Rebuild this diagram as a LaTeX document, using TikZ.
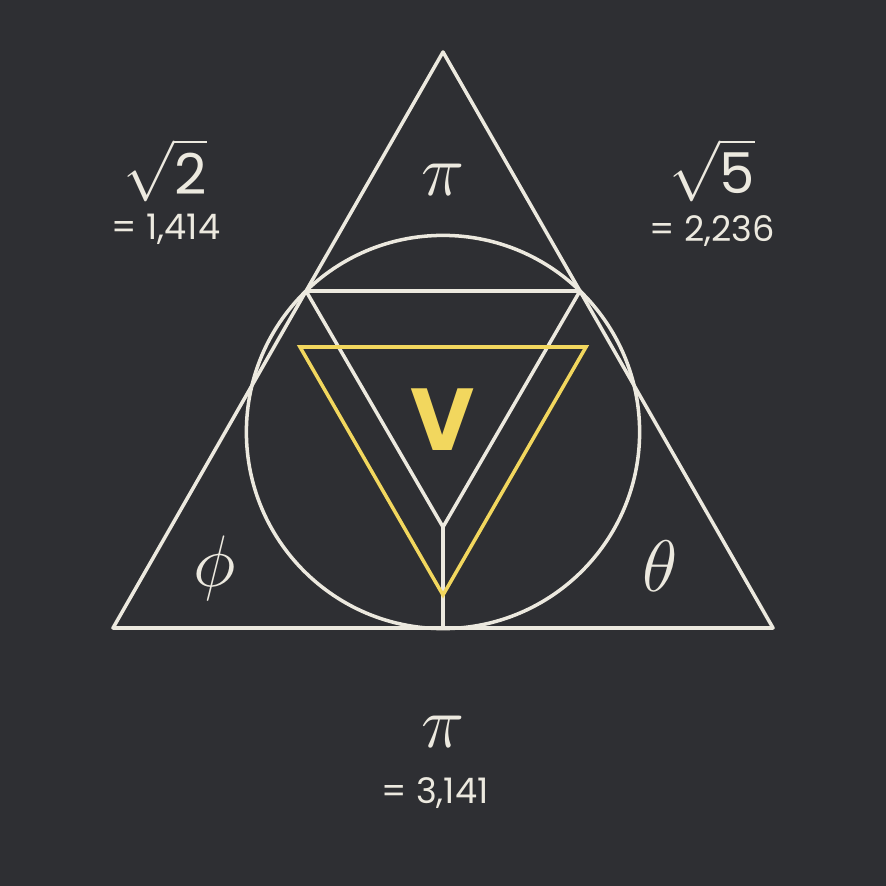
\documentclass[tikz,border=0pt]{standalone}
\usepackage{fontspec}
\setmainfont{Poppins}
\usepackage{xcolor}
\usepackage{tikz}
\usetikzlibrary{calc}

\definecolor{board}{HTML}{2E2F33}
\definecolor{chalk}{HTML}{ECE9DF}
\definecolor{gold}{HTML}{F2D75E}

\begin{document}
\begin{tikzpicture}[x=0.01cm, y=-0.01cm,
    chalkline/.style={draw=chalk, line width=1pt, line join=round},
    goldline/.style={draw=gold, line width=1pt, line join=miter},
    rootlabel/.style={text=chalk, font=\fontsize{16}{18}\selectfont},
    valuelabel/.style={text=chalk, font=\fontsize{10}{12}\selectfont},
    greeklabel/.style={text=chalk, font=\fontsize{20}{22}\selectfont}]
    % Background board
    \fill[board] (0,0) rectangle (886,886);
    \useasboundingbox (0,0) rectangle (886,886);

    % Outer triangle
    \coordinate (apex) at (443,52);
    \coordinate (baseL) at (113,628);
    \coordinate (baseR) at (773,628);
    \draw[chalkline] (apex) -- (baseL) -- (baseR) -- cycle;

    % Circle and chord
    \coordinate (centre) at (443,432);
    \coordinate (chordL) at ($(apex)!0.415!(baseL)$);
    \coordinate (chordR) at ($(apex)!0.415!(baseR)$);
    \draw[chalkline] (centre) circle[radius=1.965cm];
    \draw[chalkline] (chordL) -- (chordR);

    % Inner V and stem
    \coordinate (fork) at (443,527);
    \coordinate (baseM) at (443,628);
    \draw[chalkline] (chordL) -- (fork) -- (chordR);
    \draw[chalkline] (fork) -- (baseM);

    % Yellow triangle
    \coordinate (goldL) at (300,347);
    \coordinate (goldR) at (586,347);
    \coordinate (goldB) at (443,595);
    \draw[goldline] (goldL) -- (goldR) -- (goldB) -- cycle;
    \node[text=gold, font=\fontsize{25}{28}\selectfont\bfseries] (vee) at (443,420) {V};

    % Labels
    \node[rootlabel] (rootTwo) at (165,170) {$\sqrt{\mbox{2}}$};
    \node[valuelabel] (valTwo) at (166,229) {= 1,414};
    \node[rootlabel] (rootFive) at (712,170) {$\sqrt{\mbox{5}}$};
    \node[valuelabel] (valFive) at (712,231) {= 2,236};
    \node[greeklabel, font=\fontsize{22}{24}\selectfont] (piTop) at (443,180) {$\pi$};
    \node[greeklabel, font=\fontsize{22}{24}\selectfont] (piBot) at (443,732) {$\pi$};
    \node[valuelabel] (valPi) at (435,793) {= 3,141};
    \node[greeklabel] (phi) at (215,568) {$\phi$};
    \node[greeklabel] (theta) at (660,566) {$\theta$};
\end{tikzpicture}
\end{document}
